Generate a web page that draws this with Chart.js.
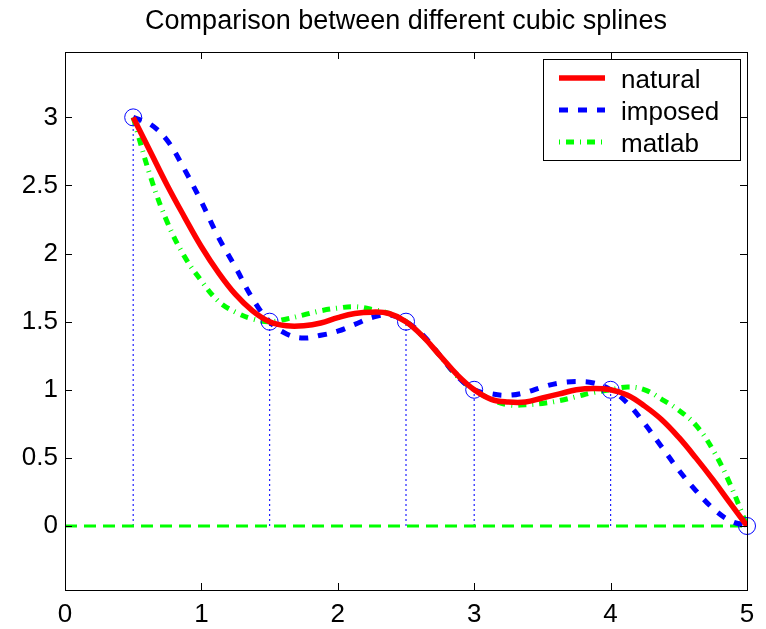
<!DOCTYPE html>
<html>
<head>
<meta charset="utf-8">
<script src="https://cdn.jsdelivr.net/npm/chart.js@4.4.0/dist/chart.umd.min.js"></script>
<style>
html,body{margin:0;padding:0;background:#fff;}
</style>
</head>
<body>
<canvas id="c" width="766" height="629"></canvas>
<script>
// knots of the interpolation
const knotX = [0.5, 1.5, 2.5, 3, 4, 5];
const knotY = [3, 1.5, 1.5, 1, 1, 0];

// splines
const sampleX = [0.5, 0.625, 0.75, 0.875, 1, 1.125, 1.25, 1.375, 1.5, 1.625, 1.75, 1.875, 2, 2.125, 2.25, 2.375, 2.5,
                 2.625, 2.75, 2.875, 3, 3.125, 3.25, 3.375, 3.5, 3.625, 3.75, 3.875, 4, 4.125, 4.25, 4.375, 4.5, 4.625, 4.75, 4.875, 5];
const natural = [3.00, 2.75, 2.50, 2.27, 2.05, 1.86, 1.70, 1.58, 1.50, 1.47, 1.47, 1.49, 1.53, 1.56, 1.57, 1.56, 1.50,
                 1.39, 1.25, 1.11, 1.00, 0.93, 0.91, 0.91, 0.94, 0.97, 1.00, 1.01, 1.00, 0.96, 0.88, 0.78, 0.65, 0.50, 0.34, 0.17, 0.00];
const imposed = [3.00, 2.95, 2.83, 2.62, 2.38, 2.12, 1.90, 1.67, 1.50, 1.41, 1.38, 1.40, 1.43, 1.48, 1.53, 1.55, 1.50,
                 1.40, 1.25, 1.10, 1.00, 0.97, 0.96, 0.98, 1.02, 1.05, 1.06, 1.05, 1.00, 0.90, 0.75, 0.58, 0.41, 0.26, 0.13, 0.04, 0.00];
const matlab  = [3.00, 2.57, 2.23, 1.98, 1.80, 1.65, 1.57, 1.52, 1.50, 1.52, 1.55, 1.58, 1.60, 1.61, 1.59, 1.56, 1.50,
                 1.39, 1.25, 1.10, 1.00, 0.93, 0.89, 0.89, 0.90, 0.92, 0.95, 0.98, 1.00, 1.02, 1.00, 0.93, 0.85, 0.74, 0.56, 0.31, 0.00];

const zeroX = [0, 5];
const zeroY = [0, 0];

const xTicks = [0, 1, 2, 3, 4, 5];
const yTicks = [0, 0.5, 1, 1.5, 2, 2.5, 3];
const titleText = 'Comparison between different cubic splines';
const FONT = '"Liberation Sans", Arial, Helvetica, sans-serif';

const pts = (xs, ys) => xs.map((x, i) => ({x: x, y: ys[i]}));

const curve = (label, ys, color, width, dash, order) => ({
  label: label, data: pts(sampleX, ys), showLine: true,
  borderColor: color, borderWidth: width, borderDash: dash,
  pointRadius: 0, tension: 0.4, order: order
});

const stems = knotX.map((x, i) => ({
  label: 'stem', data: [{x: x, y: 0}, {x: x, y: knotY[i]}], showLine: true,
  borderColor: '#2020ff', borderWidth: 1.2, borderDash: [2, 3], pointRadius: 0, order: 7
}));

// frame, inward ticks, title and legend box
const decor = {
  id: 'decor',
  afterDraw(chart){
    const ctx = chart.ctx, a = chart.chartArea;
    const xs = chart.scales.x, ys = chart.scales.y;
    ctx.save();
    ctx.strokeStyle = '#000'; ctx.lineWidth = 1; ctx.setLineDash([]);
    ctx.strokeRect(Math.round(a.left) + 0.5, Math.round(a.top) + 0.5,
                   Math.round(a.right - a.left), Math.round(a.bottom - a.top));
    ctx.beginPath();
    xTicks.forEach(v => {
      const p = Math.round(xs.getPixelForValue(v)) + 0.5;
      ctx.moveTo(p, a.bottom); ctx.lineTo(p, a.bottom - 7);
      ctx.moveTo(p, a.top); ctx.lineTo(p, a.top + 7);
    });
    yTicks.forEach(v => {
      const p = Math.round(ys.getPixelForValue(v)) + 0.5;
      ctx.moveTo(a.left, p); ctx.lineTo(a.left + 7, p);
      ctx.moveTo(a.right, p); ctx.lineTo(a.right - 7, p);
    });
    ctx.stroke();

    // title
    ctx.fillStyle = '#000';
    ctx.font = '27px ' + FONT;
    ctx.textAlign = 'center'; ctx.textBaseline = 'alphabetic';
    ctx.fillText(titleText, (a.left + a.right) / 2, 29);

    // legend
    const bx = 543.5, by = 59.5, bw = 197, bh = 101;
    ctx.fillStyle = '#fff';
    ctx.fillRect(bx, by, bw, bh);
    ctx.strokeRect(bx, by, bw, bh);
    ctx.font = '26px ' + FONT;
    ctx.textAlign = 'left';
    [0, 1, 2].forEach((k, i) => {
      const ds = chart.data.datasets[k];
      const y = 78 + i * 32;
      ctx.strokeStyle = ds.borderColor;
      ctx.lineWidth = ds.borderWidth;
      ctx.setLineDash(ds.borderDash || []);
      ctx.lineDashOffset = k === 2 ? 14 : 0;
      ctx.beginPath(); ctx.moveTo(559, y); ctx.lineTo(605, y); ctx.stroke();
      ctx.setLineDash([]);
      ctx.fillStyle = '#000';
      ctx.fillText(ds.label, 621, y + 10);
    });
    ctx.restore();
  }
};

new Chart(document.getElementById('c').getContext('2d'), {
  type: 'scatter',
  data: {
    datasets: [
      curve('natural', natural, '#ff0000', 5.5, [], 1),
      curve('imposed', imposed, '#0000ff', 5, [9, 10], 3),
      curve('matlab', matlab, '#00ff00', 5, [8, 6, 1, 6], 4),
      {label: 'knots', data: pts(knotX, knotY), showLine: false, pointRadius: 8.5,
       pointBorderColor: '#0000ff', pointBackgroundColor: 'rgba(0,0,0,0)', pointBorderWidth: 1,
       clip: false, order: 2},
      {label: 'zero', data: pts(zeroX, zeroY), showLine: true, borderColor: '#00ff00',
       borderWidth: 3, borderDash: [12, 7], pointRadius: 0, order: 5},
      ...stems
    ]
  },
  options: {
    responsive: false,
    animation: false,
    events: [],
    layout: {padding: {top: 52, right: 19, bottom: 0, left: 0}},
    plugins: {legend: {display: false}, title: {display: false}, tooltip: {enabled: false}},
    scales: {
      x: {
        type: 'linear', min: 0, max: 5,
        ticks: {stepSize: 1, color: '#000', padding: 9, font: {family: FONT, size: 26}},
        grid: {display: false, drawTicks: false}, border: {display: false},
        afterFit: s => { s.height = 39; }
      },
      y: {
        type: 'linear', min: -0.47, max: 3.48,
        afterBuildTicks: s => { s.ticks = yTicks.map(v => ({value: v})); },
        ticks: {color: '#000', padding: 7, font: {family: FONT, size: 26}, callback: v => String(v)},
        grid: {display: false, drawTicks: false}, border: {display: false},
        afterFit: s => { s.width = 65; }
      }
    }
  },
  plugins: [decor]
});
</script>
</body>
</html>
